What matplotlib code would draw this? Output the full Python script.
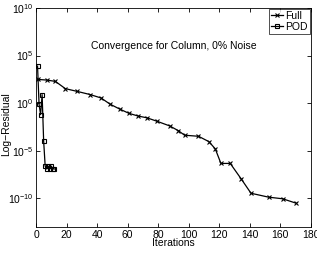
import matplotlib
matplotlib.use("Agg")
import matplotlib.pyplot as plt
import numpy as np

plt.rcParams['font.family'] = ['Liberation Sans', 'DejaVu Sans']

full_iter = [1, 7, 12.7, 19.2, 26.7, 35.4, 42.6, 48.5, 55, 61, 67, 72.6, 79,
             87.5, 93.3, 97.3, 106.4, 113.2, 117.4, 121.1, 127.2, 134.4, 140.8,
             152.3, 161.5, 170.3]
full_log = [2.5, 2.43, 2.29, 1.53, 1.25, 0.91, 0.55, -0.1, -0.63, -1.07, -1.35,
            -1.53, -1.88, -2.38, -2.89, -3.36, -3.47, -4.03, -4.79, -6.32, -6.32,
            -7.95, -9.45, -9.86, -10.03, -10.49]
pod_iter = [1, 2, 3, 4, 5, 6, 7, 8, 9, 10, 11, 12]
pod_log = [3.9, -0.1, -1.2, 0.9, -3.96, -6.6, -6.9, -6.6, -6.9, -6.6, -6.9, -6.9]

full_val = [10 ** v for v in full_log]
pod_val = [10 ** v for v in pod_log]

fig = plt.figure(figsize=(3.17, 2.56), dpi=100)
ax = fig.add_axes([0.1136, 0.113, 0.867, 0.856])
ax.semilogy(full_iter, full_val, '-x', color='black', lw=0.9, ms=2.5, mew=0.8, label='Full')
ax.semilogy(pod_iter, pod_val, '-s', color='black', lw=0.9, ms=3, mew=0.8,
            mfc='none', label='POD')
ax.set_xlim(0, 180)
ax.set_ylim(1e-13, 1e10)
ax.set_xticks(np.arange(0, 181, 20))
ax.set_yticks([1e-10, 1e-5, 1e0, 1e5, 1e10])
ax.yaxis.set_minor_locator(matplotlib.ticker.NullLocator())
ax.tick_params(which='both', direction='in', top=True, right=True, labelsize=7.5,
               length=3, width=0.6, pad=2)
for s in ax.spines.values():
    s.set_linewidth(0.6)
ax.set_xlabel('Iterations', fontsize=7.5, labelpad=-1)
ax.set_ylabel('Log\u2212Residual', fontsize=7.5)
ax.yaxis.set_label_coords(-0.09, 0.47)
ax.text(0.5, 0.826, 'Convergence for Column, 0% Noise', transform=ax.transAxes,
        ha='center', va='center', fontsize=7.5)
leg = ax.legend(loc='upper right', fontsize=7.5, frameon=True, fancybox=False,
                edgecolor='black', borderpad=0.2, handlelength=1.2, handletextpad=0.2,
                labelspacing=0.1, borderaxespad=0.1)
leg.get_frame().set_linewidth(0.6)
fig.savefig('out.png', dpi=100)
